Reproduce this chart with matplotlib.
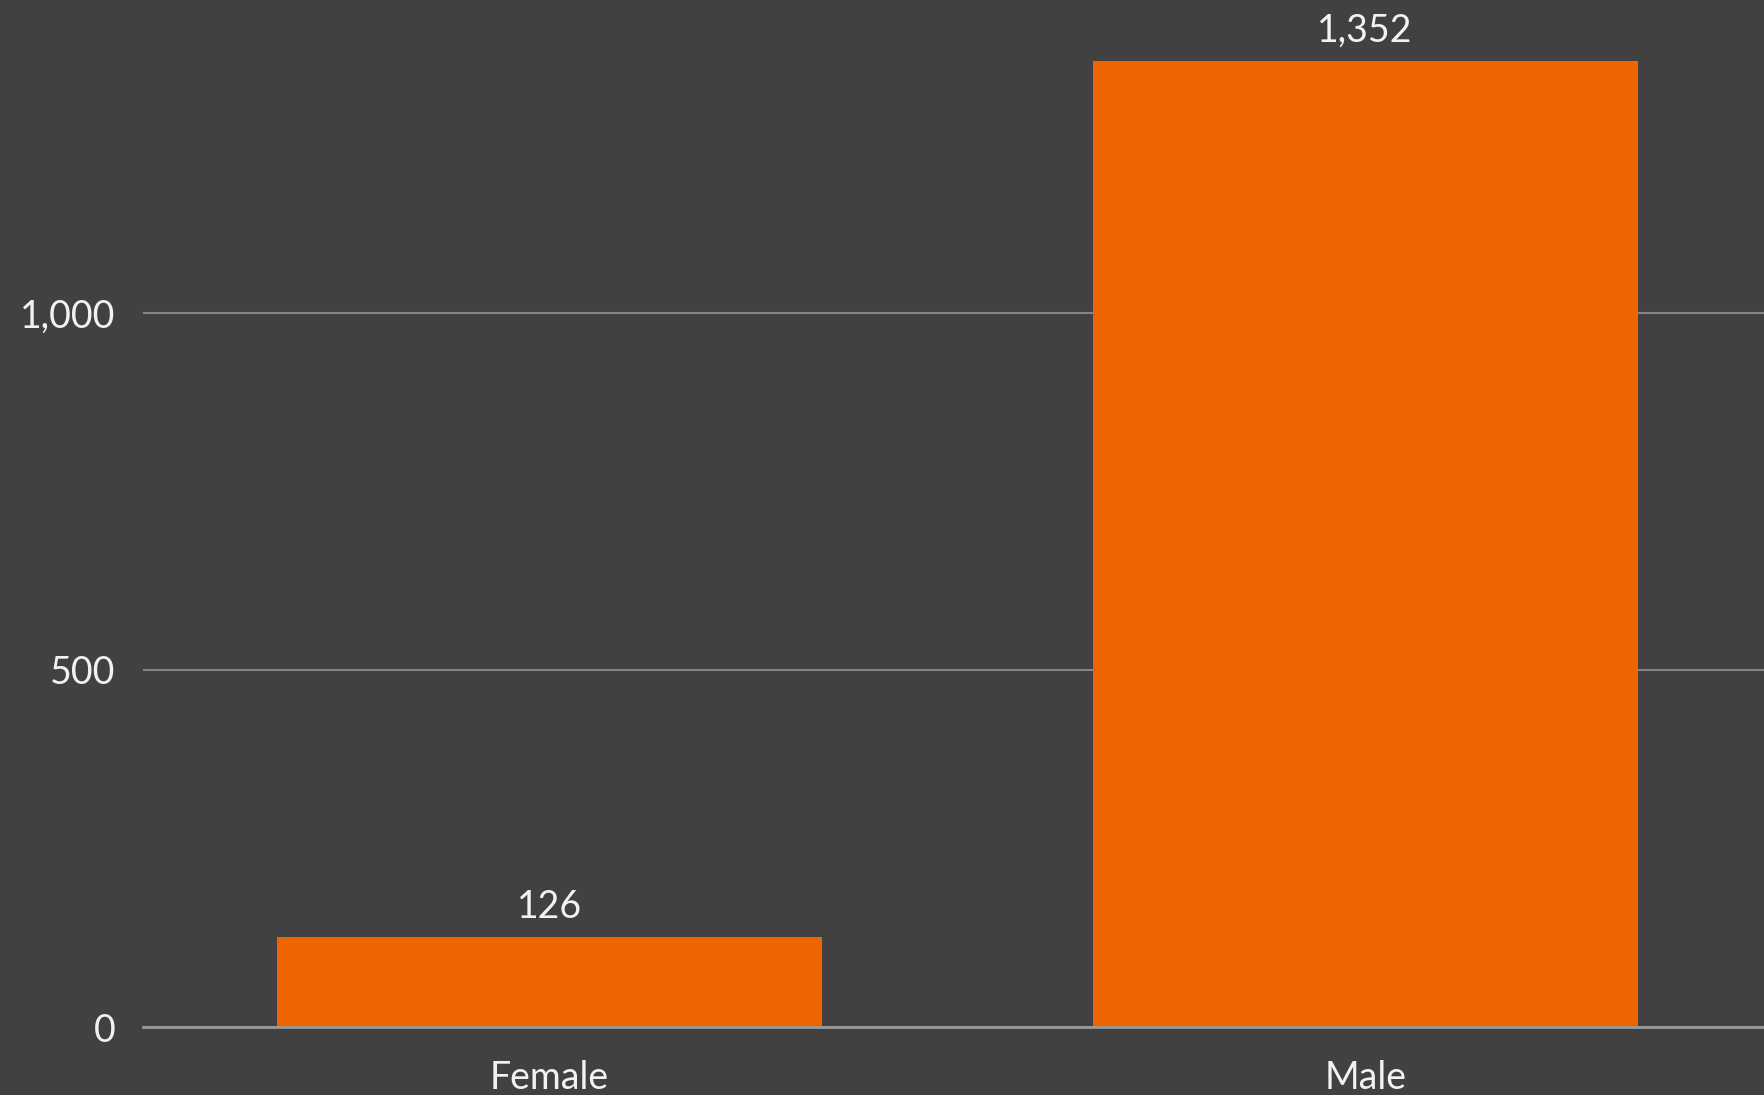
import matplotlib.pyplot as plt

categories = ['Female', 'Male']
counts = [126, 1352]
ytick_values = [0, 500, 1000]
ytick_labels = ['0', '500', '1,000']

bg = '#414141'
bar_color = '#EE6400'
text_color = '#F2F2F2'
grid_color = '#858585'

plt.rcParams['font.family'] = ['Lato', 'DejaVu Sans']

fig = plt.figure(figsize=(17.65, 10.95), dpi=100)
fig.patch.set_facecolor(bg)
ax = fig.add_axes([0.081, 0.0621, 0.919, 0.938])
ax.set_facecolor(bg)

x = list(range(len(categories)))
bars = ax.bar(x, counts, width=0.668, color=bar_color, zorder=3)

# value labels above bars
for xi, v in zip(x, counts):
    ax.annotate(f'{v:,}', (xi, v), xytext=(0, 9), textcoords='offset points',
                ha='center', va='bottom', color=text_color, fontsize=27)

ax.set_xlim(-0.498, 1.49)
ax.set_ylim(0, 1438)
ax.set_xticks(x)
ax.set_xticklabels(categories)
ax.set_yticks(ytick_values)
ax.set_yticklabels(ytick_labels)
ax.tick_params(axis='both', length=0, colors=text_color, labelsize=27)
ax.tick_params(axis='y', pad=20)
ax.tick_params(axis='x', pad=24)

ax.grid(axis='y', color=grid_color, linewidth=1.5, zorder=0)
for s in ['top', 'right', 'left']:
    ax.spines[s].set_visible(False)
ax.spines['bottom'].set_color('#9a9a9a')
ax.spines['bottom'].set_linewidth(2)
ax.spines['bottom'].set_zorder(4)

fig.savefig('out.png', dpi=100, facecolor=bg)
